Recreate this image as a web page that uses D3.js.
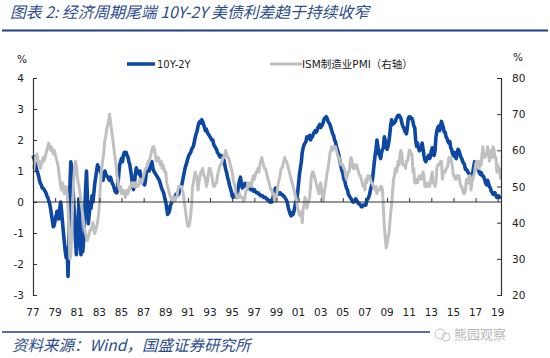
<!DOCTYPE html>
<html><head><meta charset="utf-8">
<script src="https://cdn.jsdelivr.net/npm/d3@7"></script>
<style>
html,body{margin:0;padding:0;background:#fff;}
svg{display:block;}
</style></head>
<body>
<svg id="c" width="550" height="358"></svg>
<script>
// ---- DATA (monthly, Jan 1977 – Apr 2019) ----
const startYear = 1977;
const spreadLabel = "10Y-2Y";
const pmiLabel = "ISM制造业PMI（右轴）";
const spread = [
 1.50,1.40,1.30,1.20,1.05,0.95,0.85,0.70,0.60,0.55,0.45,0.45, // 1977
 0.40,0.35,0.30,0.20,0.15,0.05,-0.05,-0.20,-0.40,-0.60,-0.80,-0.75, // 1978
 -0.60,-0.45,-0.30,-0.40,-0.55,-0.20,0.00,-0.30,-0.65,-1.00,-1.30,-1.60, // 1979
 -1.80,-1.50,-2.40,-1.20,0.50,1.30,1.10,0.50,0.10,-0.50,-1.20,-1.70, // 1980
 -1.40,-0.50,0.10,-0.80,-1.70,-1.50,-1.60,-1.20,-0.40,0.40,1.00,0.20, // 1981
 -0.70,-0.40,0.00,-0.20,0.20,0.00,0.30,0.60,0.80,1.00,1.20,1.10, // 1982
 1.10,1.00,0.90,0.80,0.70,0.90,1.00,0.90,0.85,0.80,0.75,0.70, // 1983
 0.80,0.70,0.60,0.55,0.45,0.35,0.30,0.30,0.50,0.90,1.20,1.30, // 1984
 1.40,1.30,1.50,1.60,1.55,1.60,1.50,1.45,1.30,1.20,1.00,0.80, // 1985
 0.50,0.40,0.60,0.90,1.10,1.00,1.00,0.90,1.00,0.80,0.70,0.65, // 1986
 0.60,0.55,0.70,1.00,1.10,1.00,1.00,1.10,1.20,1.30,1.10,1.00, // 1987
 0.95,0.90,0.85,0.80,0.75,0.70,0.60,0.50,0.40,0.35,0.25,0.10, // 1988
 0.00,-0.20,-0.40,-0.35,-0.30,-0.10,-0.05,0.05,0.10,0.10,0.15,0.25, // 1989
 0.20,0.30,0.25,0.40,0.45,0.50,0.65,0.80,0.95,1.10,1.20,1.30, // 1990
 1.40,1.50,1.55,1.60,1.70,1.75,1.80,1.95,2.10,2.20,2.30,2.45, // 1991
 2.55,2.60,2.55,2.65,2.60,2.50,2.40,2.30,2.35,2.25,2.20,2.15, // 1992
 2.10,2.05,2.00,2.00,1.85,1.80,1.75,1.70,1.60,1.55,1.50,1.45, // 1993
 1.50,1.45,1.45,1.35,1.20,1.05,0.95,0.80,0.70,0.55,0.45,0.35, // 1994
 0.20,0.15,0.20,0.25,0.20,0.15,0.35,0.55,0.70,0.80,0.60,0.45, // 1995
 0.50,0.55,0.60,0.55,0.50,0.55,0.45,0.45,0.40,0.45,0.40,0.35, // 1996
 0.40,0.35,0.30,0.30,0.30,0.25,0.25,0.20,0.20,0.20,0.15,0.15, // 1997
 0.15,0.10,0.10,0.05,0.05,0.00,0.05,0.00,0.10,0.25,0.35,0.45, // 1998
 0.35,0.30,0.25,0.30,0.30,0.25,0.25,0.20,0.20,0.15,0.10,0.05, // 1999
 -0.05,-0.20,-0.30,-0.40,-0.45,-0.35,-0.40,-0.30,-0.15,0.00,0.10,0.30, // 2000
 0.60,0.90,1.10,1.30,1.60,1.75,1.85,1.90,1.95,2.10,2.05,2.10, // 2001
 2.15,2.00,2.10,2.10,2.20,2.25,2.30,2.25,2.30,2.40,2.45,2.50, // 2002
 2.40,2.45,2.50,2.60,2.70,2.70,2.75,2.70,2.60,2.55,2.50,2.40, // 2003
 2.30,2.20,2.15,2.00,1.95,1.80,1.70,1.60,1.45,1.30,1.15,1.00, // 2004
 0.95,0.75,0.70,0.55,0.45,0.40,0.25,0.20,0.15,0.10,0.05,0.00, // 2005
 0.00,0.05,0.10,0.05,0.00,-0.05,-0.05,-0.10,-0.15,-0.15,-0.10,-0.10, // 2006
 -0.10,-0.10,0.05,0.10,0.15,0.25,0.40,0.50,0.70,0.95,1.25,1.50, // 2007
 1.70,2.00,1.80,1.55,1.50,1.40,1.60,1.70,1.75,2.10,2.00,1.80, // 2008
 1.70,1.80,1.95,2.20,2.50,2.65,2.50,2.55,2.55,2.60,2.70,2.75, // 2009
 2.80,2.80,2.75,2.70,2.55,2.45,2.40,2.30,2.25,2.20,2.40,2.70, // 2010
 2.75,2.75,2.70,2.70,2.60,2.45,2.40,2.00,1.80,1.90,1.75,1.65, // 2011
 1.70,1.70,1.90,1.70,1.50,1.35,1.30,1.40,1.45,1.50,1.40,1.45, // 2012
 1.65,1.75,1.65,1.50,1.65,2.10,2.30,2.40,2.45,2.30,2.45,2.60, // 2013
 2.50,2.40,2.25,2.25,2.10,2.05,1.95,1.90,1.95,1.75,1.70,1.55, // 2014
 1.50,1.60,1.45,1.40,1.60,1.70,1.65,1.55,1.45,1.40,1.30,1.25, // 2015
 1.20,1.05,1.05,1.00,0.95,0.90,0.85,0.85,0.90,0.95,1.15,1.30, // 2016
 1.25,1.20,1.15,1.05,0.95,0.90,0.95,0.85,0.85,0.80,0.70,0.60, // 2017
 0.55,0.70,0.60,0.50,0.45,0.35,0.30,0.25,0.25,0.30,0.20,0.15, // 2018
 0.18,0.20,0.15,0.18 // 2019
];
const pmi = [
 56,55,58,57,59,58,56,57,55,56,57,58, // 1977
 57,58,59,60,61,62,61,60,61,60,59,60, // 1978
 59,58,57,56,54,52,50,49,51,50,48,49, // 1979
 50,48,44,37,30,31,37,45,51,55,57,56, // 1980
 53,51,50,48,46,44,42,40,38,37,36,35, // 1981
 36,37,38,38,39,40,38,37,38,39,40,42, // 1982
 45,50,54,56,58,60,63,64,66,67,68,70, // 1983
 68,66,64,62,60,58,56,53,52,50,49,50, // 1984
 48,48,49,48,47,48,49,48,49,50,50,51, // 1985
 50,51,50,51,50,50,50,51,52,51,51,52, // 1986
 53,54,55,55,56,57,57,58,59,60,61,61, // 1987
 60,58,57,58,58,57,56,57,55,56,55,54, // 1988
 54,51,50,49,48,47,47,46,47,47,46,47, // 1989
 47,49,50,50,50,50,49,48,46,44,42,40, // 1990
 39,39,40,42,45,50,51,53,54,53,52,49, // 1991
 51,53,54,54,55,53,53,52,50,51,53,55, // 1992
 55,54,53,51,50,50,51,51,53,54,55,56, // 1993
 56,57,58,58,59,60,59,58,58,57,56,55, // 1994
 54,52,51,50,48,47,47,47,48,47,47,47, // 1995
 46,46,47,49,49,51,50,51,51,50,52,53, // 1996
 52,53,54,54,55,54,56,57,58,57,56,55, // 1997
 55,54,53,52,51,50,49,49,48,48,46,46, // 1998
 47,49,51,52,53,55,55,56,57,58,57,57, // 1999
 56,55,54,53,52,51,50,49,48,47,46,44, // 2000
 43,42,43,43,40,44,45,47,46,44,45,46, // 2001
 47,50,53,54,54,53,52,51,50,49,48,50, // 2002
 51,49,47,46,49,50,52,54,55,57,59,60, // 2003
 61,60,61,61,61,60,59,58,58,57,56,56, // 2004
 56,55,55,53,52,53,54,54,57,58,57,55, // 2005
 55,56,55,56,55,54,53,53,52,51,50,50, // 2006
 49,52,51,53,53,53,52,51,51,50,50,49, // 2007
 50,48,49,49,49,50,50,49,44,39,36,33, // 2008
 34,36,37,40,43,45,49,52,53,55,54,55, // 2009
 57,56,59,60,59,56,56,56,55,57,57,58, // 2010
 60,60,59,59,54,55,51,51,52,51,52,53, // 2011
 53,52,53,54,53,50,50,50,51,51,50,51, // 2012
 53,54,51,51,50,51,55,56,56,56,57,57, // 2013
 52,54,54,54,55,55,56,58,57,58,57,55, // 2014
 53,53,52,52,53,53,53,51,50,50,49,48, // 2015
 48,49,52,51,51,53,53,49,51,52,53,54, // 2016
 56,57,57,55,55,57,56,59,61,58,58,59, // 2017
 59,61,59,57,59,60,58,61,60,58,58,54, // 2018
 56,54,55,52 // 2019
];
const leftTicks = [4,3,2,1,0,-1,-2,-3];
const rightTicks = [80,70,60,50,40,30,20];
const xTickYears = d3.range(1977, 2020, 2);
const xTickLabels = xTickYears.map(y => String(y % 100).padStart(2, "0"));

// ---- SCALES ----
const svg = d3.select("#c");
const x = d3.scaleLinear().domain([1977, 2019 + 3/12]).range([33, 500.5]);
const yL = d3.scaleLinear().domain([-3, 4]).range([295, 78]);
const yR = d3.scaleLinear().domain([20, 80]).range([295, 78]);
const t = i => startYear + i / 12;

const titleColor = "#2c4d8e";
const font = "'DejaVu Sans', Verdana, sans-serif";
const cjk = "'DejaVu Sans', 'Noto Sans CJK SC', sans-serif";

// Title
svg.append("text").attr("x", 10).attr("y", 18)
  .attr("font-family", "'Noto Sans CJK SC', sans-serif")
  .attr("font-style", "italic").attr("font-size", 15.8).attr("fill", titleColor)
  .text("图表 2:  经济周期尾端 10Y-2Y 美债利差趋于持续收窄");
svg.append("line").attr("x1", 2).attr("x2", 548).attr("y1", 30.5).attr("y2", 30.5)
  .attr("stroke", "#1f3f86").attr("stroke-width", 2);

// Legend
svg.append("line").attr("x1", 127).attr("x2", 155).attr("y1", 64).attr("y2", 64)
  .attr("stroke", "#0b47a3").attr("stroke-width", 3.5);
svg.append("text").attr("x", 157).attr("y", 68).attr("font-family", font)
  .attr("font-size", 10).attr("fill", "#222").text(spreadLabel);
svg.append("line").attr("x1", 270).attr("x2", 302).attr("y1", 64).attr("y2", 64)
  .attr("stroke", "#bfbfbf").attr("stroke-width", 3);
svg.append("text").attr("x", 302).attr("y", 68).attr("font-family", cjk)
  .attr("font-size", 10.5).attr("fill", "#222").text(pmiLabel);

// Unit labels
svg.append("text").attr("x", 22).attr("y", 63).attr("text-anchor", "middle")
  .attr("font-family", font).attr("font-size", 10.5).attr("fill", "#222").text("%");
svg.append("text").attr("x", 518).attr("y", 61).attr("text-anchor", "middle")
  .attr("font-family", font).attr("font-size", 10.5).attr("fill", "#222").text("%");

// Lines
const lineL = d3.line().x((d, i) => x(t(i))).y(d => yL(d));
const lineR = d3.line().x((d, i) => x(t(i))).y(d => yR(d));
svg.append("path").datum(spread).attr("d", lineL).attr("fill", "none")
  .attr("stroke", "#0b47a3").attr("stroke-width", 3.6).attr("stroke-linejoin", "round");
svg.append("path").datum(pmi).attr("d", lineR).attr("fill", "none")
  .attr("stroke", "#c0c0c0").attr("stroke-width", 3).attr("stroke-linejoin", "round");

// Axes
const axisColor = "#333";
const gL = svg.append("g").attr("transform", "translate(33,0)")
  .call(d3.axisRight(yL).tickValues(leftTicks).tickSize(4).tickFormat(""));
const gR = svg.append("g").attr("transform", "translate(501,0)")
  .call(d3.axisLeft(yR).tickValues(rightTicks).tickSize(4).tickFormat(""));
const gX = svg.append("g").attr("transform", `translate(0,${yL(0)})`)
  .call(d3.axisTop(x).tickValues(xTickYears).tickSize(4).tickFormat(""));
[gL, gR, gX].forEach(g => {
  g.select(".domain").attr("stroke", axisColor).attr("stroke-width", 1.2);
  g.selectAll(".tick line").attr("stroke", axisColor);
});
gX.select(".domain").attr("d", `M33,0H501`);

// Tick labels
svg.selectAll(".lt").data(leftTicks).join("text").attr("class", "lt")
  .attr("x", 24).attr("y", d => yL(d) + 4).attr("text-anchor", "end")
  .attr("font-family", font).attr("font-size", 10.5).attr("fill", "#222").text(d => d);
svg.selectAll(".rt").data(rightTicks).join("text").attr("class", "rt")
  .attr("x", 512).attr("y", d => yR(d) + 4).attr("text-anchor", "start")
  .attr("font-family", font).attr("font-size", 10.5).attr("fill", "#222").text(d => d);
svg.selectAll(".xt").data(xTickYears).join("text").attr("class", "xt")
  .attr("x", d => x(d)).attr("y", 316).attr("text-anchor", "middle")
  .attr("font-family", font).attr("font-size", 10.5).attr("fill", "#222")
  .text((d, i) => xTickLabels[i]);

// Footer
svg.append("line").attr("x1", 2).attr("x2", 430).attr("y1", 332).attr("y2", 332)
  .attr("stroke", "#1f3f86").attr("stroke-width", 1.5);
svg.append("text").attr("x", 12).attr("y", 351)
  .attr("font-family", "'Noto Sans CJK SC', sans-serif")
  .attr("font-style", "italic").attr("font-size", 15.5).attr("fill", titleColor)
  .text("资料来源：Wind，国盛证券研究所");
// watermark
const wm = svg.append("g").attr("opacity", 0.6);
wm.append("circle").attr("cx", 440).attr("cy", 334).attr("r", 5).attr("fill", "none").attr("stroke", "#999");
wm.append("circle").attr("cx", 446).attr("cy", 337).attr("r", 4).attr("fill", "none").attr("stroke", "#999");
wm.append("text").attr("x", 454).attr("y", 339)
  .attr("font-family", "'Noto Sans CJK SC', sans-serif").attr("font-size", 13).attr("fill", "#888")
  .text("熊园观察");
</script>
</body></html>
